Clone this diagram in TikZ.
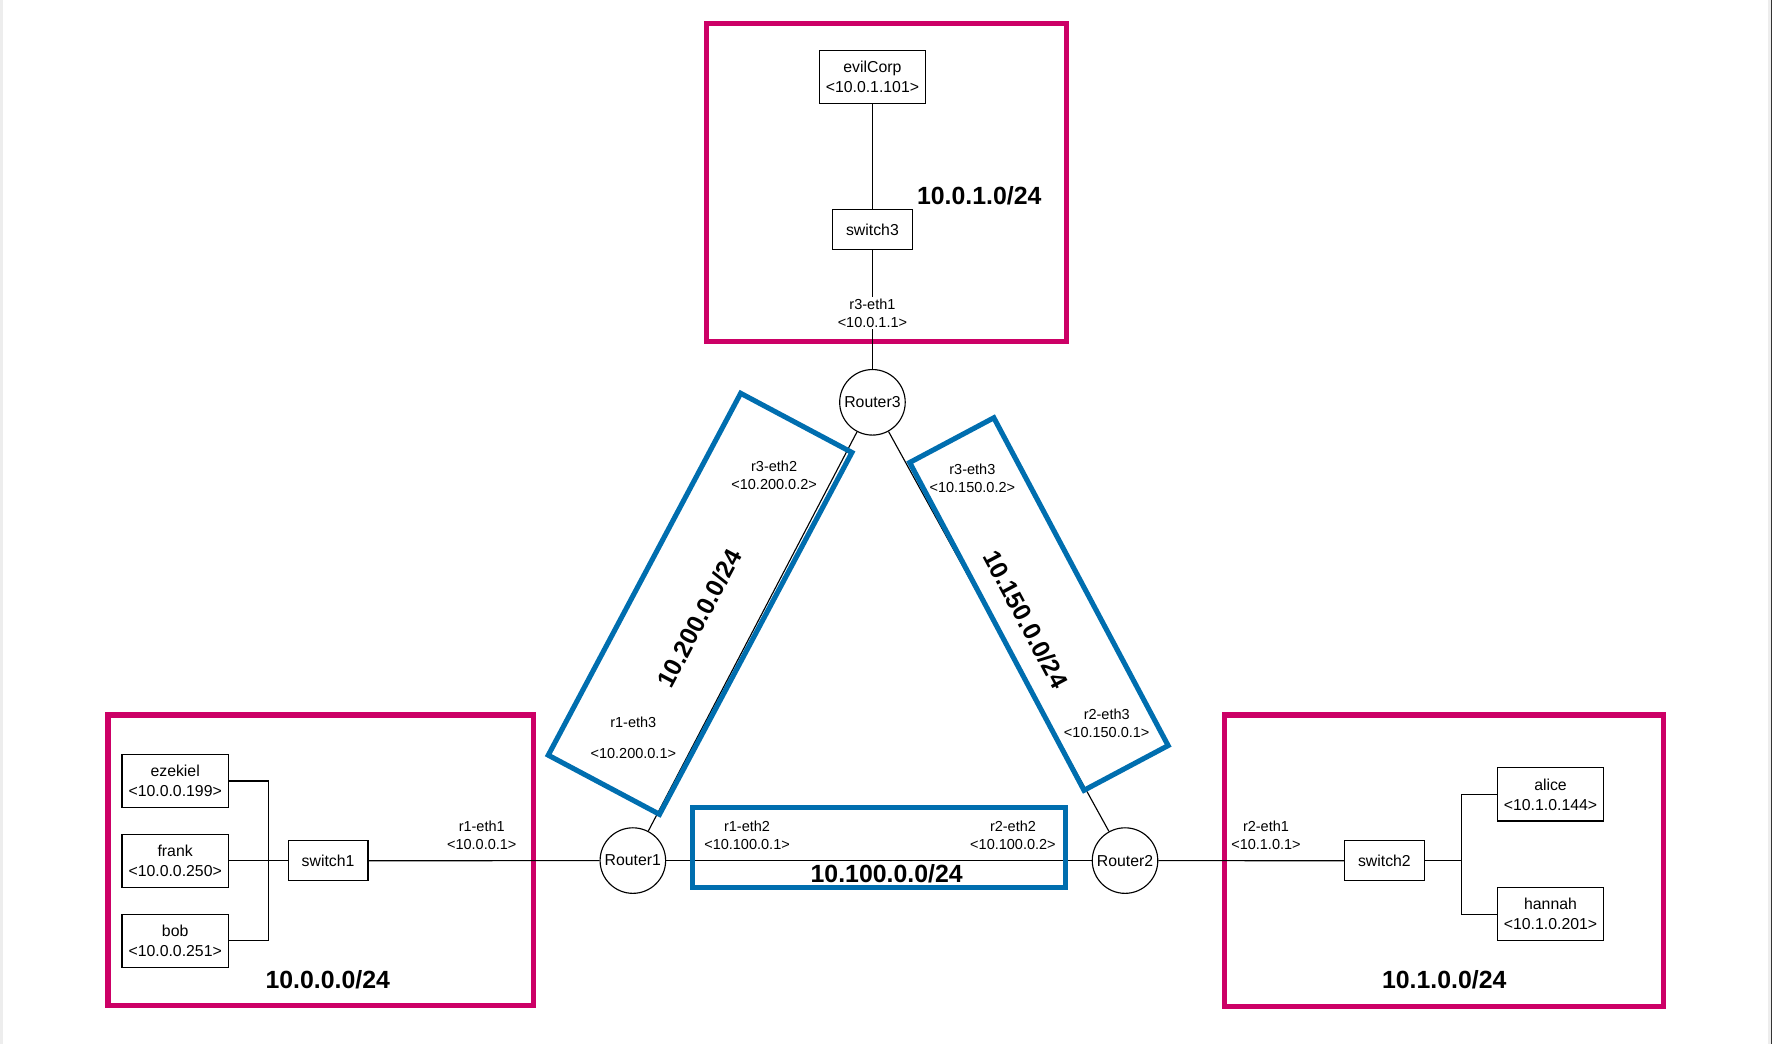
\documentclass[tikz,border=0pt]{standalone}
\usepackage{fontspec}
\setmainfont{Liberation Sans}
\usetikzlibrary{positioning}
\definecolor{lanpink}{HTML}{CC0066}
\definecolor{wanblue}{HTML}{006EAF}

\begin{document}
\begin{tikzpicture}[x=0.6pt,y=-0.6pt,on grid,
    host/.style={draw,line width=0.6pt,minimum width=56.4pt,minimum height=28.2pt,inner sep=0pt,align=center,font=\fontsize{8.4}{10.5}\selectfont},
    switch/.style={draw,line width=0.6pt,minimum width=42.4pt,minimum height=21.2pt,inner sep=0pt,font=\fontsize{8.4}{10.5}\selectfont},
    router/.style={draw,circle,line width=0.6pt,minimum size=34.8pt,inner sep=0pt,font=\fontsize{8.4}{10.5}\selectfont},
    iface/.style={align=center,inner sep=1pt,font=\fontsize{7.7}{9.5}\selectfont},
    lan/.style={draw=lanpink,line width=2.7pt,inner sep=0pt},
    wan/.style={draw=wanblue,line width=2.7pt,inner sep=0pt},
    netname/.style={inner sep=0pt,font=\bfseries\fontsize{13.2}{15}\selectfont},
    link/.style={line width=0.6pt}]
  \useasboundingbox (0,0) rectangle (1568,924);
  \fill[black!7] (0,0) rectangle (2.7,924);
  \fill[black!7] (1564.6,0) rectangle (1566.8,924);
  \draw[black!80,line width=0.6pt] (1567.5,0) -- (1567.5,924);

  \node[lan,minimum width=191.2pt,minimum height=169pt] (lan3) at (784.6,161.5) {};
  \node[lan,minimum width=226pt,minimum height=154.3pt] (lan1) at (283.9,761.3) {};
  \node[lan,minimum width=233.2pt,minimum height=154.6pt] (lan2) at (1277.6,761.5) {};

  \node[host] (evilcorp) at (772,68) {evilCorp\\<10.0.1.101>};
  \node[switch] (s3) at (772,203) {switch3};
  \node[router] (r3) at (772,356) {Router3};
  \node[router] (r1) at (560,761.5) {Router1};
  \node[router] (r2) at (995.5,761.5) {Router2};
  \node[switch] (s1) at (290.3,761.7) {switch1};
  \node[host] (frank) at (155,761.7) {frank\\<10.0.0.250>};
  \node[host,above=42.4pt of frank] (ezekiel) {ezekiel\\<10.0.0.199>};
  \node[host,below=42.4pt of frank] (bob) {bob\\<10.0.0.251>};
  \node[switch] (s2) at (1225,761.7) {switch2};
  \node[host] (alice) at (1372,703) {alice\\<10.1.0.144>};
  \node[host,below=63.5pt of alice] (hannah) {hannah\\<10.1.0.201>};

  \path[link]
    (evilcorp) edge (s3)
    (s3) edge node[iface,pos=0.53,fill=white] (r3eth1) {r3-eth1\\<10.0.1.1>} (r3)
    (s1) edge node[iface,pos=0.49,above=4.5pt] (r1eth1) {r1-eth1\\<10.0.0.1>} (r1)
    (r1) edge node[iface,pos=0.19,above=4.5pt] (r1eth2) {r1-eth2\\<10.100.0.1>}
              node[iface,pos=0.815,above=4.5pt] (r2eth2) {r2-eth2\\<10.100.0.2>} (r2)
    (r2) edge node[iface,pos=0.58,above=4.5pt] (r2eth1) {r2-eth1\\<10.1.0.1>} (s2)
    (r1) edge (r3)
    (r3) edge (r2)
    (frank) edge (s1);
  \draw[link] (ezekiel.east) -- ++(35,0) |- (s1.west);
  \draw[link] (bob.east) -- ++(35,0) |- (s1.west);
  \draw[link] (s2.east) -- ++(32.5,0) |- (alice.west);
  \draw[link] (s2.east) -- ++(32.5,0) |- (hannah.west);

  \node[wan,minimum width=198pt,minimum height=42.5pt] (net100) at (778,749.8) {};
  \node[wan,rotate=62,minimum width=217.6pt,minimum height=66.9pt] (net200) at (619.5,534.3) {};
  \node[wan,rotate=-62,minimum width=197.1pt,minimum height=50.6pt] (net150) at (919.3,534.5) {};

  \node[iface] (r3eth2) at (685,420.5) {r3-eth2\\<10.200.0.2>};
  \node[iface] (r1eth3) at (560.4,653) {r1-eth3\\[6.9pt]<10.200.0.1>};
  \node[iface] (r3eth3) at (860.4,423) {r3-eth3\\<10.150.0.2>};
  \node[iface] (r2eth3) at (979.3,640.3) {r2-eth3\\<10.150.0.1>};

  \node[netname] (lan3name) at (866.5,173.4) {10.0.1.0/24};
  \node[netname] (lan1name) at (290,867) {10.0.0.0/24};
  \node[netname] (lan2name) at (1278,867) {10.1.0.0/24};
  \node[netname] (net100name) at (784.6,772.8) {10.100.0.0/24};
  \node[netname,rotate=62] (net200name) at (618.6,547.2) {10.200.0.0/24};
  \node[netname,rotate=-62] (net150name) at (907.6,547.8) {10.150.0.0/24};
\end{tikzpicture}
\end{document}
